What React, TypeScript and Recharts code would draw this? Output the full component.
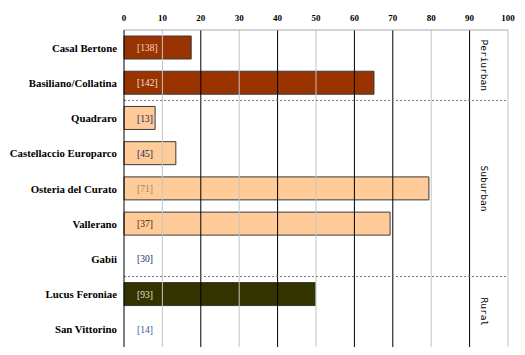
import React from "react";
import { BarChart, Bar, XAxis, YAxis, Cell, ReferenceLine, ReferenceDot } from "recharts";

const sites = [
  "Casal Bertone",
  "Basiliano/Collatina",
  "Quadraro",
  "Castellaccio Europarco",
  "Osteria del Curato",
  "Vallerano",
  "Gabii",
  "Lucus Feroniae",
  "San Vittorino",
];
const siteGroups = ["Periurban", "Periurban", "Suburban", "Suburban", "Suburban", "Suburban", "Suburban", "Rural", "Rural"];
const percents = [17.5, 65.1, 8.1, 13.5, 79.4, 69.3, 0, 49.8, 0];
const counts = [138, 142, 13, 45, 71, 37, 30, 93, 14];
const xTicks = [0, 10, 20, 30, 40, 50, 60, 70, 80, 90, 100];
const groupNames = ["Periurban", "Suburban", "Rural"];

// styles
const groupColors: Record<string, string> = { Periurban: "#993300", Suburban: "#FFCC99", Rural: "#333300" };
const labelColors = ["#f4d8c8", "#f4e4dc", "#1a2050", "#1a2050", "#9a8068", "#3a2a10", "#1a2a70", "#e0e0d0", "#3a5aa0"];
const darkGrid = [20, 40, 60, 70, 90];
const lightGrid = [10, 30, 50, 80, 100];

const data = sites.map((name, i) => ({ name, value: percents[i], count: counts[i], group: siteGroups[i] }));

const serif = "'Liberation Serif', 'Times New Roman', serif";

const groupInfo = groupNames.map((g) => {
  const idx = siteGroups.map((s, i) => (s === g ? i : -1)).filter((i) => i >= 0);
  const first = idx[0];
  const last = idx[idx.length - 1];
  const n = idx.length;
  const anchor = n % 2 === 0 ? { site: sites[first + n / 2 - 1], position: "end" } : { site: sites[first + (n - 1) / 2], position: "middle" };
  return { name: g, first, last, anchor };
});

const YTick = (props: any) => {
  const { x, y, payload } = props;
  return (
    <text x={x} y={y} dy={4} textAnchor="end" style={{ fontFamily: serif, fontWeight: "bold", fontSize: 10.8 }} fill="#000">
      {payload.value}
    </text>
  );
};

const XTick = (props: any) => {
  const { x, y, payload } = props;
  return (
    <text x={x} y={y} textAnchor="middle" style={{ fontFamily: serif, fontWeight: "bold", fontSize: 9 }} fill="#000">
      {payload.value}
    </text>
  );
};

const makeCountLabel = (count: number, color: string) => (props: any) => {
  const { viewBox } = props;
  const x = viewBox.x;
  const y = viewBox.y + (viewBox.height || 0) / 2;
  return (
    <text x={x + 13} y={y} dy={3.5} style={{ fontFamily: serif, fontSize: 9.5 }} fill={color}>
      [{count}]
    </text>
  );
};

const makeGroupLabel = (text: string) => (props: any) => {
  const { viewBox } = props;
  const cx = viewBox.x + viewBox.width * 0.937;
  const cy = viewBox.y;
  return (
    <text
      x={cx}
      y={cy}
      transform={`rotate(90 ${cx} ${cy})`}
      textAnchor="middle"
      dy={3}
      style={{ fontFamily: "'DejaVu Sans Mono', monospace", fontSize: 9.5 }}
      fill="#000"
    >
      {text}
    </text>
  );
};

export default function App() {
  return (
    <div style={{ position: "absolute", left: 0, top: 0, background: "#fff" }}>
      <BarChart
        width={525}
        height={355}
        data={data}
        layout="vertical"
        margin={{ top: 0, right: 17, bottom: 8, left: 0 }}
        barSize={23}
      >
        <XAxis
          xAxisId="top"
          type="number"
          orientation="top"
          domain={[0, 100]}
          ticks={xTicks}
          height={30}
          tickLine={false}
          tickSize={0}
          tickMargin={9}
          axisLine={{ stroke: "#aaa" }}
          tick={<XTick />}
        />
        <XAxis
          xAxisId="bottom"
          type="number"
          orientation="bottom"
          domain={[0, 100]}
          height={0}
          tick={false}
          tickLine={false}
          axisLine={{ stroke: "#bbb" }}
        />
        <YAxis
          type="category"
          dataKey="name"
          width={124}
          tickLine={false}
          tickSize={0}
          tickMargin={7}
          axisLine={{ stroke: "#000" }}
          tick={<YTick />}
          interval={0}
        />
        {lightGrid.map((v) => (
          <ReferenceLine key={"l" + v} xAxisId="top" x={v} stroke="#c4c4c4" strokeWidth={1} />
        ))}
        {darkGrid.map((v) => (
          <ReferenceLine key={"d" + v} xAxisId="top" x={v} stroke="#000" strokeWidth={1} />
        ))}
        {groupInfo.slice(0, -1).map((g) => (
          <ReferenceLine
            key={"sep" + g.name}
            xAxisId="top"
            y={sites[g.last]}
            position="end"
            ifOverflow="visible"
            segment={[
              { x: -31, y: sites[g.last] },
              { x: 100, y: sites[g.last] },
            ]}
            stroke="#777"
            strokeDasharray="2 2"
          />
        ))}
        {groupInfo.map((g) => (
          <ReferenceLine
            key={"gl" + g.name}
            xAxisId="top"
            y={g.anchor.site}
            position={g.anchor.position as any}
            stroke="none"
            label={makeGroupLabel(g.name)}
          />
        ))}
        <Bar xAxisId="top" dataKey="value" isAnimationActive={false} stroke="#3a3a3a" strokeWidth={1}>
          {data.map((d, i) => (
            <Cell key={i} fill={groupColors[d.group]} />
          ))}
        </Bar>
        {data.map((d, i) => (
          <ReferenceDot
            key={"c" + i}
            xAxisId="top"
            x={0}
            y={d.name}
            r={0}
            stroke="none"
            fill="none"
            ifOverflow="visible"
            label={makeCountLabel(d.count, labelColors[i])}
          />
        ))}
      </BarChart>
    </div>
  );
}
